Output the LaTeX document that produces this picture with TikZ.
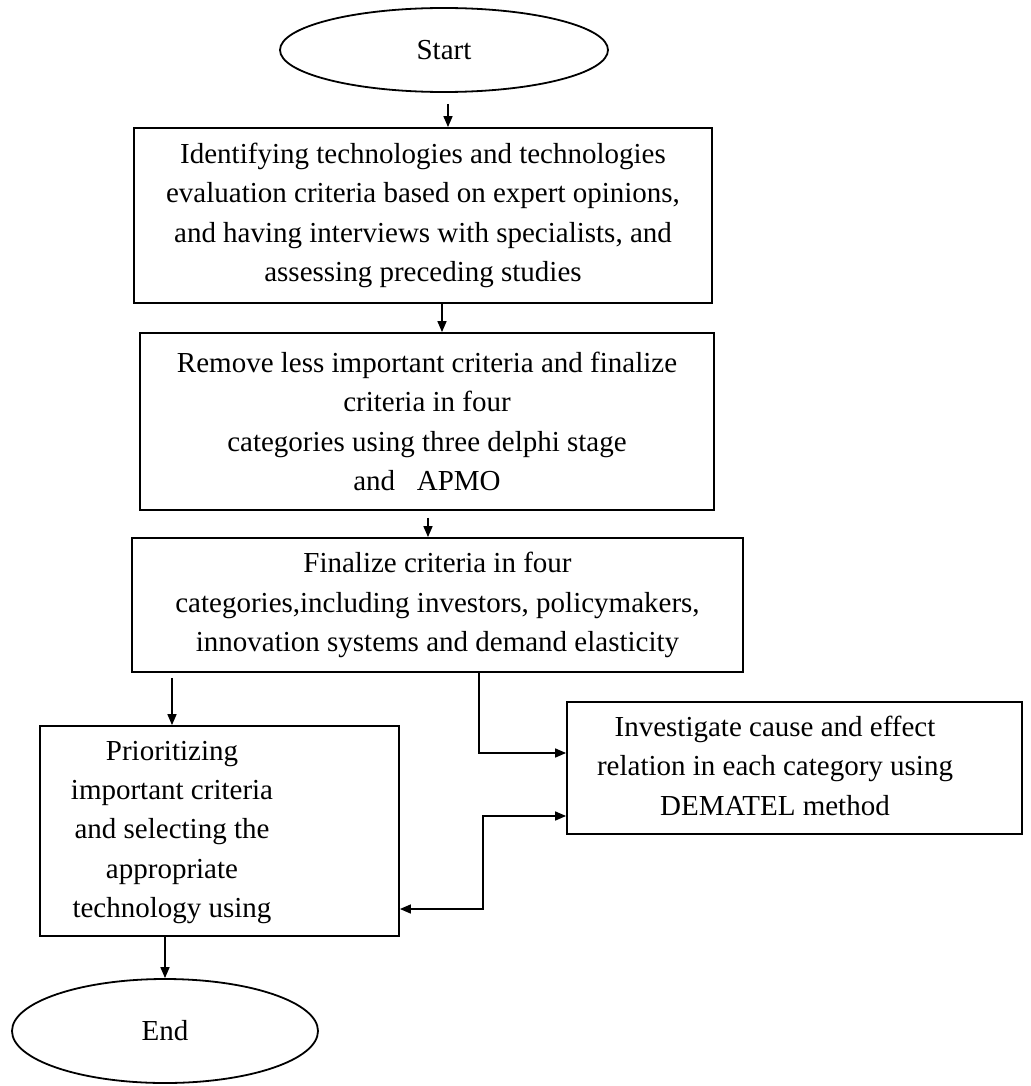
\documentclass[tikz,border=0pt]{standalone}
\usepackage{fontspec}
\setmainfont{Liberation Serif}
\usetikzlibrary{arrows.meta,positioning,calc,shapes.geometric}
\newcommand{\padtext}[2]{\begin{tabular}{@{}c@{\hspace{#1}}}#2\end{tabular}}

\begin{document}
\begin{tikzpicture}[
  x=0.5pt, y=-0.5pt,
  box/.style={draw, line width=0.9pt, align=center, inner sep=0pt,
              font=\fontsize{14.5}{19.7}\selectfont},
  term/.style={draw, ellipse, line width=0.9pt, inner sep=0pt,
               font=\fontsize{14.5}{19.7}\selectfont},
  arr/.style={-{Triangle[length=5.5pt,width=4.5pt]}, line width=0.8pt},
  dbl/.style={{Triangle[length=5.5pt,width=4.5pt]}-{Triangle[length=5.5pt,width=4.5pt]}, line width=0.8pt}
]
\useasboundingbox (0,0) rectangle (1030,1086);
\node[term, minimum width=164pt, minimum height=42pt] (start) at (444,50) {Start};
\node[box, minimum width=289pt, minimum height=87.5pt] (ident) at (423,215.5)
  {Identifying technologies and technologies\\evaluation criteria based on expert opinions,\\and having interviews with specialists, and\\assessing preceding studies};
\node[box, minimum width=287pt, minimum height=88.5pt] (crit) at (427,421.5)
  {Remove less important criteria and finalize\\criteria in four\\categories using three delphi stage\\and~~~APMO};
\node[box, minimum width=305.5pt, minimum height=67pt] (final) at (437.5,605)
  {Finalize criteria in four\\categories,including investors, policymakers,\\innovation systems and demand elasticity};
\node[box, minimum width=179.5pt, minimum height=105pt] (prio) at (219.5,831)
  {\padtext{47.5pt}{Prioritizing\\important criteria\\and selecting the\\appropriate\\technology using}};
\node[box, minimum width=227.5pt, minimum height=66pt] (dem) at (794.5,768)
  {\padtext{19.5pt}{Investigate cause and effect\\relation in each category using\\DEMATEL method}};
\node[term, minimum width=153pt, minimum height=52pt] (finish) at (165,1031) {End};

\draw[arr, shorten <=5.5pt] (start.south -| 448,0) -- (ident.north -| 448,0);
\draw[arr] (ident.south -| 442,0) -- (crit.north -| 442,0);
\draw[arr, shorten <=3.5pt] (crit.south -| 428,0) -- (final.north -| 428,0);
\draw[arr, shorten <=2.5pt] (final.south -| 172,0) -- (prio.north -| 172,0);
\coordinate (fork) at (479,753);
\draw[arr] (final.south -| fork) |- (dem.west |- fork);
\coordinate (loop) at (483,816);
\coordinate (back) at (483,909);
\draw[dbl] (prio.east |- back) -- (back) -- (loop) -- (dem.west |- loop);
\draw[arr] (prio.south -| finish.north) -- (finish.north);
\end{tikzpicture}
\end{document}
